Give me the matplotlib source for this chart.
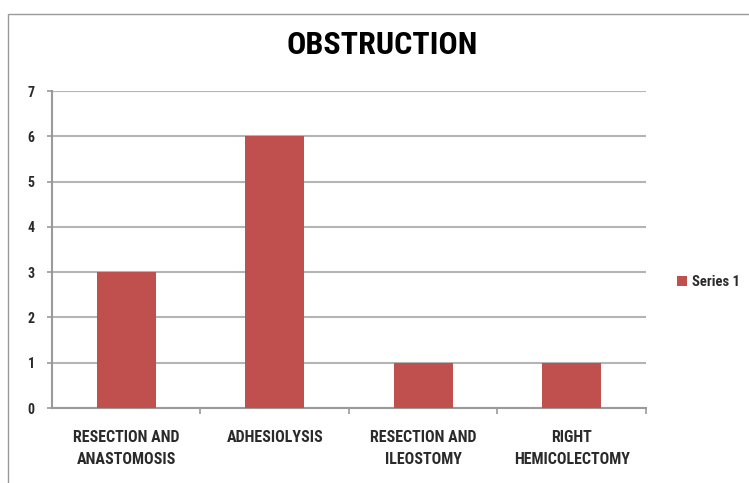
import numpy as np
import matplotlib.pyplot as plt
from matplotlib import font_manager
from matplotlib.patches import Rectangle

categories = ['RESECTION AND\nANASTOMOSIS', 'ADHESIOLYSIS',
              'RESECTION AND\nILEOSTOMY', 'RIGHT\nHEMICOLECTOMY']
series1 = [3, 6, 1, 1]
yticks = [0, 1, 2, 3, 4, 5, 6, 7]

names = {f.name for f in font_manager.fontManager.ttflist}
fam = 'DejaVu Sans'
for cand in ['Liberation Sans Narrow', 'DejaVu Sans Condensed', 'Roboto Condensed', 'Open Sans']:
    if cand in names:
        fam = cand
        break
plt.rcParams['font.family'] = [fam, 'DejaVu Sans']

W, H = 749, 483
fig = plt.figure(figsize=(W / 100, H / 100), dpi=100)

# outer chart border (runs off the right and bottom edges)
fig.patches.append(Rectangle((8 / W, -0.1), 1.2, 1 - 14 / H + 0.1, transform=fig.transFigure,
                             fill=False, edgecolor='#9a9a9a', lw=1.0))

ax = fig.add_axes([52 / W, 1 - 408 / H, 594 / W, 317 / H])
x = np.arange(len(categories))
ax.bar(x, series1, width=0.4, color='#C0504D', zorder=3, label='Series 1')
ax.set_xlim(-0.5, len(categories) - 0.5)
ax.set_ylim(0, 7)
ax.set_yticks(yticks)
ax.grid(axis='y', color='#b4b4b4', lw=1.5, zorder=0)
for s in ['top', 'right']:
    ax.spines[s].set_visible(False)
ax.spines['left'].set_color('#9a9a9a')
ax.spines['left'].set_linewidth(1.5)
ax.spines['bottom'].set_color('#9a9a9a')
ax.spines['bottom'].set_linewidth(1.5)

ax.set_xticks(x)
ax.set_xticklabels(categories, fontsize=11.5, fontweight='bold', color='#2a2a2a',
                   linespacing=1.6)
ax.tick_params(axis='x', length=0, pad=16)
ax.set_xticks(np.arange(len(categories)) + 0.5, minor=True)
ax.tick_params(axis='x', which='minor', length=4, color='#9a9a9a', width=1.2)
ax.tick_params(axis='y', length=3.5, color='#9a9a9a', width=1.2, labelsize=10,
               labelcolor='#2a2a2a', pad=9)
for t in ax.get_yticklabels():
    t.set_fontweight('bold')

fig.text(382 / W, 1 - 45 / H, 'OBSTRUCTION', ha='center', va='center',
         fontsize=23, fontweight='bold', color='black')

leg = ax.legend(loc='center left', bbox_to_anchor=(664 / W, 1 - 282 / H),
                bbox_transform=fig.transFigure, frameon=False, fontsize=10.5,
                handlelength=0.7, handleheight=0.7, handletextpad=0.3,
                labelcolor='#2a2a2a')
for t in leg.get_texts():
    t.set_fontweight('bold')

fig.savefig('out.png', dpi=100)
